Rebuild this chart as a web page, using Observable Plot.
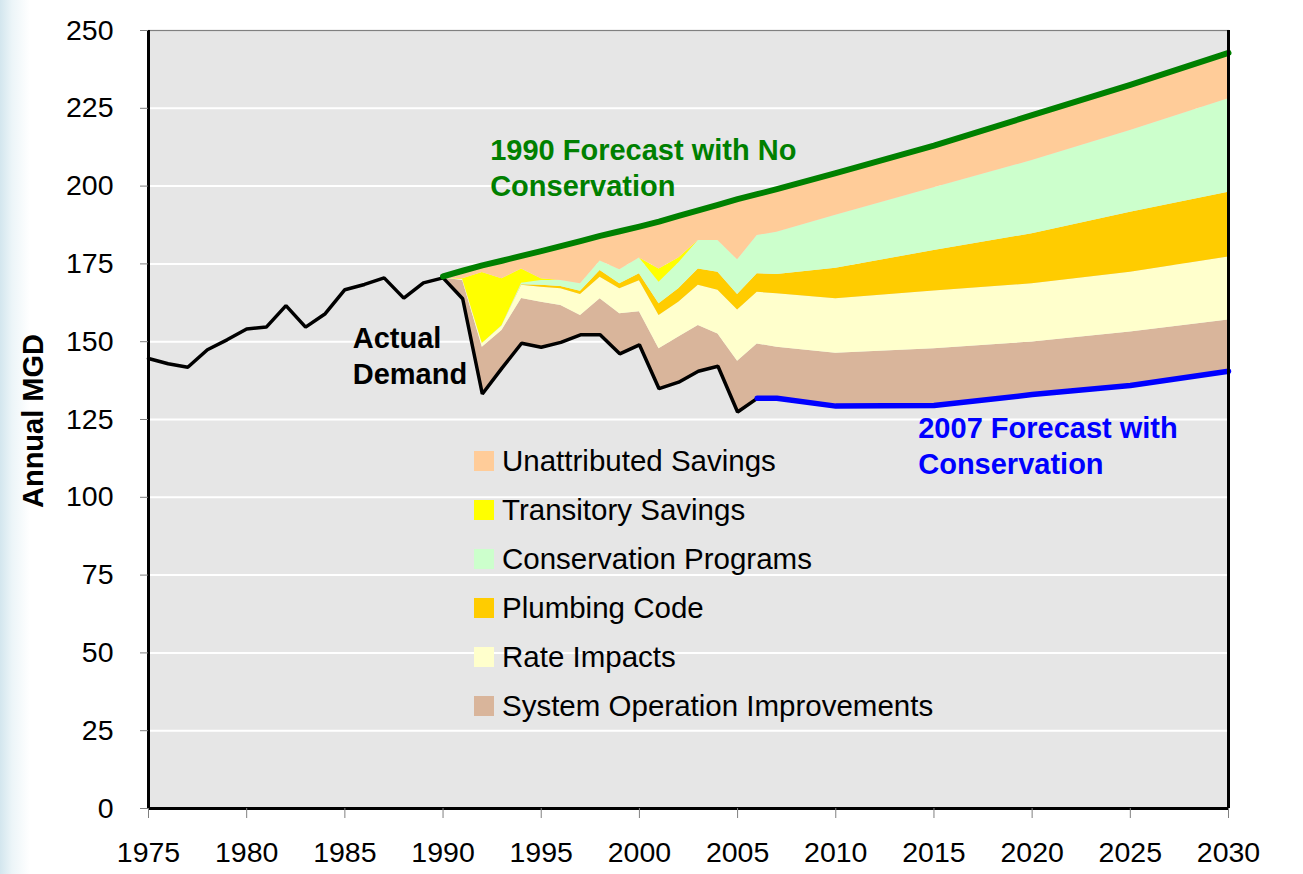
<!DOCTYPE html>
<html><head><meta charset="utf-8">
<script src="https://cdn.jsdelivr.net/npm/d3@7"></script>
<script src="https://cdn.jsdelivr.net/npm/@observablehq/plot@0.6"></script>
<style>
html,body{margin:0;padding:0;}
body{width:1303px;height:874px;overflow:hidden;background:linear-gradient(to right,#d3e6ee 0px,#ecf5f8 12px,#ffffff 30px);font-family:"Liberation Sans",Arial,sans-serif;}
#wrap{position:relative;width:1303px;height:874px;}
#ylab{position:absolute;left:33px;top:421px;transform:translate(-50%,-50%) rotate(-90deg);font-weight:bold;font-size:29px;white-space:nowrap;color:#000;}
#legend{position:absolute;left:474px;top:436px;}
.item{display:flex;align-items:center;height:49px;}
.sw{width:20px;height:20px;margin-right:8px;flex:none;}
.lab{font-size:29.5px;color:#000;white-space:nowrap;}
</style>
</head><body>
<div id="wrap"><div id="ylab">Annual MGD</div><div id="legend"></div></div>
<script>
// ---- data ----
const xTicks = [1975,1980,1985,1990,1995,2000,2005,2010,2015,2020,2025,2030];
const yTicks = [0,25,50,75,100,125,150,175,200,225,250];

const actualYears = [1975,1976,1977,1978,1979,1980,1981,1982,1983,1984,1985,1986,1987,1988,1989,1990,1991,1992,1993,1994,1995,1996,1997,1998,1999,2000,2001,2002,2003,2004,2005,2006];
const actualDemand = [144.6,142.9,141.8,147.4,150.6,154.1,154.7,161.6,154.7,159.0,166.7,168.4,170.5,164.0,168.9,170.5,163.8,133.2,141.5,149.5,148.2,149.8,152.2,152.2,146.1,149.0,134.9,137.0,140.5,142.1,127.4,131.8];

const forecast2007Years = [2006,2007,2010,2015,2020,2025,2030];
const forecast2007 = [131.8,131.8,129.3,129.5,133.0,135.9,140.5];

const years = [1990,1991,1992,1993,1994,1995,1996,1997,1998,1999,2000,2001,2002,2003,2004,2005,2006,2007,2010,2015,2020,2025,2030];
const forecast1990 = [171.0,172.8,174.5,176.0,177.6,179.1,180.7,182.3,184.0,185.5,187.0,188.6,190.4,192.2,194.0,195.8,197.4,199.0,204.2,213.0,222.8,232.5,242.8];

const systemOps    = [0,5.9,15.0,12.1,14.4,14.5,11.8,6.2,11.6,12.9,10.6,12.8,14.5,14.7,10.4,16.3,17.5,16.4,17.0,18.2,16.9,17.2,16.5];
const rateImpacts  = [0,0.3,1.2,1.4,4.2,4.8,5.4,6.8,6.9,8.0,10.0,10.7,11.2,12.9,14.0,16.5,16.6,17.2,17.5,18.6,18.7,19.2,20.2];
const plumbingCode = [0,0,0,0,0.2,0.6,0.7,1.0,2.2,1.6,2.2,3.8,4.3,5.3,5.8,5.0,5.9,6.2,9.8,13.0,16.1,19.3,20.8];
const conservation = [0,0,0,0.1,0.5,1.6,2.0,2.4,3.0,4.5,5.1,6.9,8.3,9.1,10.2,11.1,12.3,13.6,17.0,20.2,23.5,26.3,30.1];
const transitory   = [0,0.2,22.8,15.1,4.6,0.5,0,0,0,0,0,4.3,1.6,0,0,0,0,0,0,0,0,0,0];

const layerNames = ["Unattributed Savings","Transitory Savings","Conservation Programs","Plumbing Code","Rate Impacts","System Operation Improvements"];
const layerColors = ["#ffcc99","#ffff00","#ccffcc","#ffcc00","#ffffcc","#d9b59b"];

const labels = [
  {x:1985.4, y:151.0, text:"Actual", color:"#000000"},
  {x:1985.4, y:139.5, text:"Demand", color:"#000000"},
  {x:1992.4, y:211.4, text:"1990 Forecast with No", color:"#008000"},
  {x:1992.4, y:199.9, text:"Conservation", color:"#008000"},
  {x:2014.2, y:122.1, text:"2007 Forecast with", color:"#0000ff"},
  {x:2014.2, y:110.5, text:"Conservation", color:"#0000ff"}
];

// ---- build tables ----
const actualRows = actualYears.map((x,i)=>({x, y:actualDemand[i]}));
const f2007Rows = forecast2007Years.map((x,i)=>({x, y:forecast2007[i]}));
const f1990Rows = years.map((x,i)=>({x, y:forecast1990[i]}));

const baseAt = yr => yr >= 2006 ? forecast2007[forecast2007Years.indexOf(yr)] : actualDemand[actualYears.indexOf(yr)];
const stackSeries = [
  ["System Operation Improvements", systemOps],
  ["Rate Impacts", rateImpacts],
  ["Plumbing Code", plumbingCode],
  ["Conservation Programs", conservation],
  ["Transitory Savings", transitory]
];
const areaRows = [];
years.forEach((yr,i)=>{
  let acc = baseAt(yr);
  for (const [name, arr] of stackSeries) {
    areaRows.push({x:yr, layer:name, y1:acc, y2:acc+arr[i]});
    acc += arr[i];
  }
  areaRows.push({x:yr, layer:"Unattributed Savings", y1:acc, y2:forecast1990[i]});
});

const chart = Plot.plot({
  width:1303, height:874,
  marginLeft:148, marginRight:75, marginTop:30, marginBottom:66,
  style:{background:"transparent", fontFamily:"Liberation Sans, Arial, sans-serif", color:"#000", overflow:"visible"},
  x:{domain:[1975,2030]},
  y:{domain:[0,250]},
  color:{domain:layerNames, range:layerColors},
  marks:[
    Plot.frame({fill:"#e6e6e6", stroke:null}),
    Plot.ruleY(yTicks.filter(v=>v>0 && v<250), {stroke:"#ffffff", strokeWidth:2}),
    Plot.areaY(areaRows, {x:"x", y1:"y1", y2:"y2", z:"layer", fill:"layer", curve:"linear"}),
    Plot.line(actualRows, {x:"x", y:"y", stroke:"#000000", strokeWidth:3.5, strokeLinejoin:"miter"}),
    Plot.line(f1990Rows, {x:"x", y:"y", stroke:"#008000", strokeWidth:6}),
    Plot.line(f2007Rows, {x:"x", y:"y", stroke:"#0000ff", strokeWidth:5.5}),
    Plot.frame({stroke:"#808080", strokeWidth:1.2}),
    Plot.ruleX([1975, 2030], {stroke:"#000000", strokeWidth:3}),
    Plot.ruleY([0], {stroke:"#000000", strokeWidth:3}),
    Plot.axisX({ticks:xTicks, tickFormat:d=>String(d), tickSize:10, tickPadding:23, stroke:"#808080", fill:"#000", fontSize:28.5, label:null}),
    Plot.axisY({ticks:yTicks, tickSize:8, tickPadding:27, stroke:"#808080", fill:"#000", fontSize:28.5, label:null}),
    Plot.text(labels, {x:"x", y:"y", text:"text", fill:"color", textAnchor:"start", fontWeight:"bold", fontSize:29})
  ]
});
document.getElementById("wrap").appendChild(chart);
chart.style.position = "absolute";
chart.style.left = "0px";
chart.style.top = "0px";
document.getElementById("ylab").style.zIndex = 2;
const lg = document.getElementById("legend");
lg.style.zIndex = 2;
layerNames.forEach((n,i)=>{
  const it = document.createElement("div"); it.className = "item";
  const sw = document.createElement("div"); sw.className = "sw"; sw.style.background = layerColors[i];
  const lb = document.createElement("div"); lb.className = "lab"; lb.textContent = n;
  it.appendChild(sw); it.appendChild(lb); lg.appendChild(it);
});
</script>
</body></html>
